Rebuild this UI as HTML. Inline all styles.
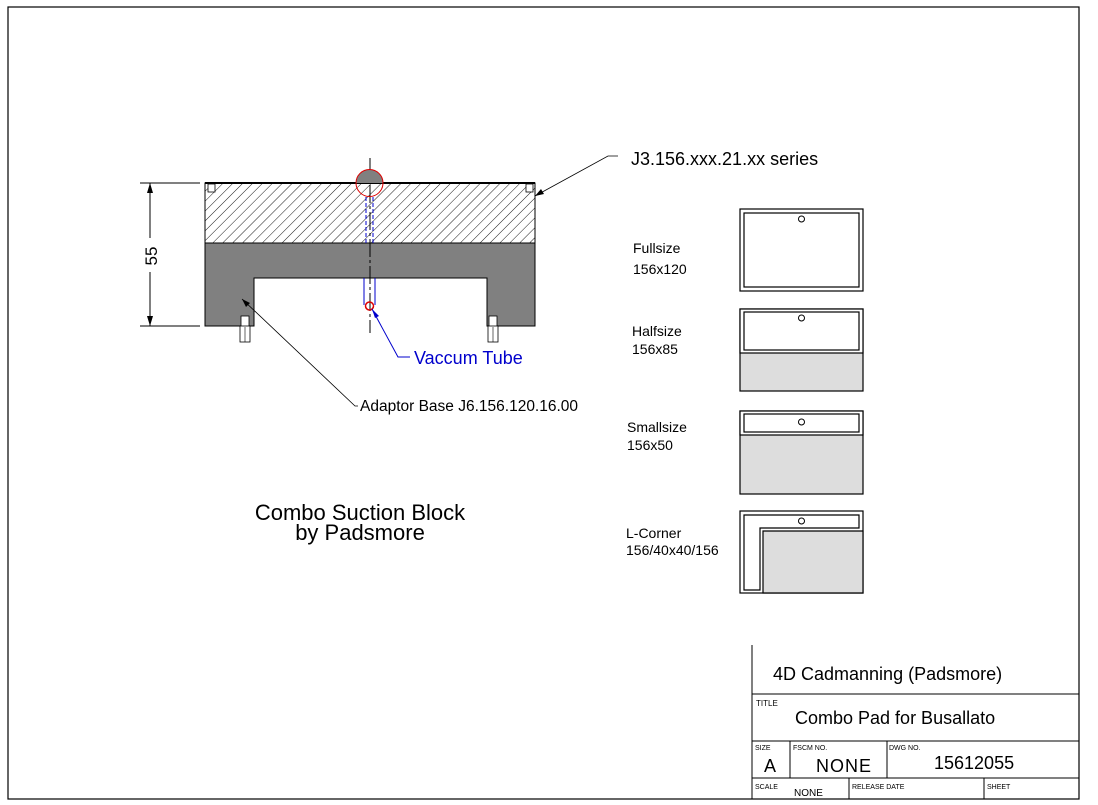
<!DOCTYPE html>
<html><head><style>
html,body{margin:0;padding:0;background:#fff;}
svg{display:block;font-family:"Liberation Sans",Arial,sans-serif;}
</style></head><body>
<svg width="1098" height="805" viewBox="0 0 1098 805" xmlns="http://www.w3.org/2000/svg">
<defs>
<pattern id="h" patternUnits="userSpaceOnUse" width="7" height="7" patternTransform="rotate(45)">
<rect width="7" height="7" fill="#fff"/><line x1="0" y1="0" x2="0" y2="7" stroke="#000" stroke-width="0.9"/>
</pattern>
</defs>
<rect x="8" y="7" width="1071" height="792" fill="none" stroke="#000" stroke-width="1.2"/>
<!-- block -->
<rect x="205" y="183" width="330" height="60" fill="url(#h)" stroke="#000"/>
<line x1="205" y1="183" x2="535" y2="183" stroke="#000" stroke-width="2"/>
<rect x="208" y="184" width="7" height="8" fill="#fff" stroke="#000" stroke-width="0.8"/>
<rect x="526" y="184" width="7" height="8" fill="#fff" stroke="#000" stroke-width="0.8"/>
<path d="M205 243 H535 V326 H487 V278 H254 V326 H205 Z" fill="#808080" stroke="#000"/>
<!-- bolts -->
<g fill="#fff" stroke="#000" stroke-width="0.8">
<rect x="241" y="316" width="8" height="11"/><rect x="240" y="326" width="10" height="16"/>
<rect x="489" y="316" width="8" height="11"/><rect x="488" y="326" width="10" height="16"/>
</g>
<line x1="245" y1="327" x2="245" y2="342" stroke="#000" stroke-width="0.6"/>
<line x1="493" y1="327" x2="493" y2="342" stroke="#000" stroke-width="0.6"/>
<!-- center line and tube -->
<line x1="370" y1="158" x2="370" y2="333" stroke="#000" stroke-dasharray="18,3,3,3"/>
<path d="M356 183 A13 13 0 0 1 383 183 Z" fill="#808080"/>
<circle cx="369.5" cy="183" r="13.5" fill="none" stroke="#d00"/>
<line x1="366" y1="197" x2="366" y2="243" stroke="#00c" stroke-dasharray="4,2"/>
<line x1="373" y1="197" x2="373" y2="243" stroke="#00c" stroke-dasharray="4,2"/>
<path d="M364 278 V305 M375 278 V305" stroke="#00c" fill="none"/>
<circle cx="369.5" cy="306" r="4" fill="none" stroke="#d00" stroke-width="1.5"/>
<polyline points="372,309 398,357 410,357" fill="none" stroke="#00c"/>
<polygon points="372,309 379,316 375,318" fill="#00c"/>
<text x="414" y="364" font-size="18" fill="#00c">Vaccum Tube</text>
<!-- dimension -->
<line x1="140" y1="183" x2="200" y2="183" stroke="#000"/>
<line x1="140" y1="326" x2="200" y2="326" stroke="#000"/>
<line x1="150" y1="183" x2="150" y2="238" stroke="#000"/>
<line x1="150" y1="272" x2="150" y2="326" stroke="#000"/>
<polygon points="150,183 147,193 153,193" fill="#000"/>
<polygon points="150,326 147,316 153,316" fill="#000"/>
<text x="157" y="256" font-size="17" text-anchor="middle" transform="rotate(-90 157 256)">55</text>
<!-- leaders -->
<polyline points="242,299 355,406 358,406" fill="none" stroke="#000" stroke-width="0.8"/>
<polygon points="242,299 250,303 246,307" fill="#000"/>
<text x="360" y="411" font-size="15.5">Adaptor Base J6.156.120.16.00</text>
<polyline points="535,196 608,156 618,156" fill="none" stroke="#000" stroke-width="0.8"/>
<polygon points="535,196 541,189 544,194" fill="#000"/>
<text x="631" y="165" font-size="18">J3.156.xxx.21.xx series</text>
<text x="360" y="520" font-size="22" text-anchor="middle">Combo Suction Block</text>
<text x="360" y="540" font-size="22" text-anchor="middle">by Padsmore</text>
<!-- pads -->
<g stroke="#000" stroke-width="1.2">
<rect x="740" y="209" width="123" height="82" fill="#fff"/>
<rect x="744" y="213" width="115" height="74" fill="#fff"/>
<rect x="740" y="309" width="123" height="82" fill="#ddd"/>
<rect x="740" y="309" width="123" height="44" fill="#fff"/>
<rect x="744" y="312" width="115" height="38" fill="#fff"/>
<rect x="740" y="411" width="123" height="83" fill="#ddd"/>
<rect x="740" y="411" width="123" height="24" fill="#fff"/>
<rect x="744" y="414" width="115" height="18" fill="#fff"/>
<rect x="740" y="511" width="123" height="82" fill="#fff"/>
<path d="M744 515 H859 V528 H760 V590 H744 Z" fill="#fff"/>
<path d="M763 531 H863 V593 H763 Z" fill="#ddd"/>
</g>
<g fill="#fff" stroke="#000" stroke-width="1"><circle cx="801.5" cy="219" r="3"/><circle cx="801.5" cy="318" r="3"/><circle cx="801.5" cy="422" r="3"/><circle cx="801.5" cy="521" r="3"/></g>
<g font-size="14">
<text x="633" y="253">Fullsize</text><text x="633" y="274">156x120</text>
<text x="632" y="336">Halfsize</text><text x="632" y="354">156x85</text>
<text x="627" y="432">Smallsize</text><text x="627" y="450">156x50</text>
<text x="626" y="538">L-Corner</text><text x="626" y="555">156/40x40/156</text>
</g>
<!-- title block -->
<g stroke="#000" stroke-width="1">
<line x1="752" y1="645" x2="752" y2="799"/>
<line x1="752" y1="694" x2="1079" y2="694"/>
<line x1="752" y1="741" x2="1079" y2="741"/>
<line x1="752" y1="778" x2="1079" y2="778"/>
<line x1="790" y1="741" x2="790" y2="778"/>
<line x1="887" y1="741" x2="887" y2="778"/>
<line x1="849" y1="778" x2="849" y2="799"/>
<line x1="984" y1="778" x2="984" y2="799"/>
</g>
<text x="773" y="680" font-size="18">4D Cadmanning (Padsmore)</text>
<text x="756" y="706" font-size="8">TITLE</text>
<text x="795" y="724" font-size="18">Combo Pad for Busallato</text>
<text x="755" y="750" font-size="7">SIZE</text>
<text x="793" y="750" font-size="7">FSCM NO.</text>
<text x="889" y="750" font-size="7">DWG NO.</text>
<text x="764" y="772" font-size="18">A</text>
<text x="816" y="772" font-size="18" letter-spacing="1">NONE</text>
<text x="934" y="769" font-size="18">15612055</text>
<text x="755" y="789" font-size="7">SCALE</text>
<text x="794" y="796" font-size="10">NONE</text>
<text x="852" y="789" font-size="7">RELEASE DATE</text>
<text x="987" y="789" font-size="7">SHEET</text>
</svg>
</body></html>
